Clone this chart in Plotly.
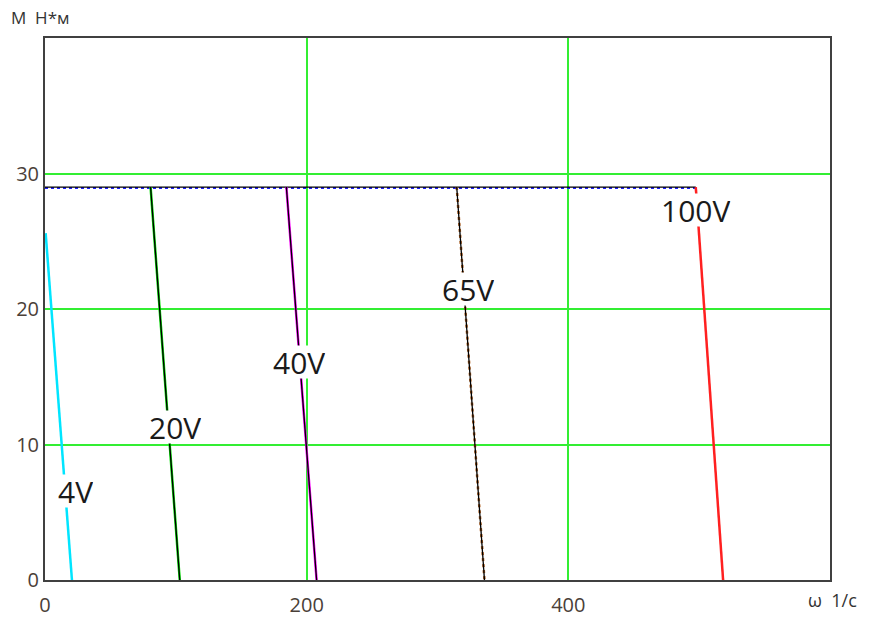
import plotly.graph_objects as go

# ---- data ----
labels = ["4V", "20V", "40V", "65V", "100V"]
w_top = [0.5, 80.7, 184.5, 314.7, 497.4]      # ω at the upper end of each line
m_top = [25.6, 29.0, 29.0, 29.0, 29.0]         # M at the upper end
w_zero = [20.6, 103.0, 207.6, 335.9, 518.3]    # ω at M = 0
line_colors = ["#00e5ff", "#00dd00", "#ff00ff", "#b06020", "#ff2020"]
black_overlay = [False, True, True, True, False]

limit_w = [0, 497.4]
limit_m = [29.0, 29.0]

label_w = [23, 99, 194, 323, 497]
label_m = [6.6, 11.3, 16.1, 21.5, 27.3]

x_ticks = [0, 200, 400]
y_ticks = [0, 10, 20, 30]

fig = go.Figure()

# limiting torque line: blue dotted under a thin black line
fig.add_trace(go.Scatter(x=limit_w, y=[m - 0.07 for m in limit_m], mode="lines",
                         line=dict(color="#2020ff", width=2, dash="dot"),
                         showlegend=False, hoverinfo="skip"))
fig.add_trace(go.Scatter(x=limit_w, y=limit_m, mode="lines",
                         line=dict(color="black", width=1.3),
                         showlegend=False, hoverinfo="skip"))

for i, lab in enumerate(labels):
    xs = [w_top[i], w_zero[i]]
    ys = [m_top[i], 0]
    dash = "dot" if lab == "65V" else "solid"
    fig.add_trace(go.Scatter(x=xs, y=ys, mode="lines",
                             line=dict(color=line_colors[i], width=2.5, dash=dash),
                             showlegend=False, hoverinfo="skip"))
    if black_overlay[i]:
        fig.add_trace(go.Scatter(x=xs, y=ys, mode="lines",
                                 line=dict(color="black", width=1.3),
                                 showlegend=False, hoverinfo="skip"))

for i, lab in enumerate(labels):
    fig.add_annotation(x=label_w[i], y=label_m[i], text=lab, showarrow=False,
                       font=dict(family="Open Sans", size=30, color="#1a1a1a"),
                       bgcolor="white", borderpad=0, height=32, valign="middle")

grid = "#33ee33"
tick_font = dict(family="Open Sans", size=20, color="#4a4038")
fig.update_xaxes(range=[0, 600], tickvals=x_ticks, showgrid=True, gridcolor=grid,
                 gridwidth=2, zeroline=False, showline=True, linecolor="#404040",
                 linewidth=2, mirror=True, ticks="", ticklabelstandoff=6,
                 tickfont=tick_font, automargin=False)
fig.update_yaxes(range=[0, 40], tickvals=y_ticks, showgrid=True, gridcolor=grid,
                 gridwidth=2, zeroline=False, showline=True, linecolor="#404040",
                 linewidth=2, mirror=True, ticks="", ticklabelstandoff=0,
                 tickfont=tick_font, automargin=False)

fig.add_annotation(xref="paper", yref="paper", x=-0.046, y=1.037, xanchor="left",
                   yanchor="middle", text="M  Н*м", showarrow=False,
                   font=dict(family="Open Sans", size=17, color="#333"))
fig.add_annotation(xref="paper", yref="paper", x=0.97, y=-0.037, xanchor="left",
                   yanchor="middle", text="ω  1/с", showarrow=False,
                   font=dict(family="Open Sans", size=18, color="#333"))

fig.update_layout(width=880, height=617, margin=dict(l=45, r=50, t=38, b=37),
                  paper_bgcolor="white", plot_bgcolor="white", showlegend=False)

fig.write_html("out.html")
